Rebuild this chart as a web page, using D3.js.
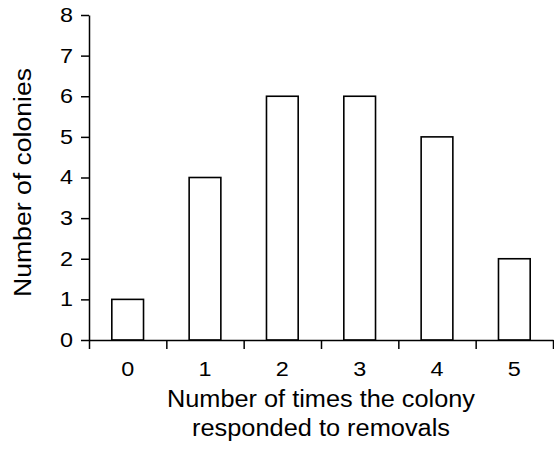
<!DOCTYPE html>
<html>
<head>
<meta charset="utf-8">
<script src="https://cdn.jsdelivr.net/npm/d3@7"></script>
<style>
  html, body { margin: 0; padding: 0; background: #fff; }
  svg { display: block; }
  text { font-family: "Liberation Sans", Arial, sans-serif; fill: #000; }
</style>
</head>
<body>
<script>
const categories = ["0", "1", "2", "3", "4", "5"];
const colonies = [1, 4, 6, 6, 5, 2];
const yTicks = [0, 1, 2, 3, 4, 5, 6, 7, 8];
const xTitleLines = ["Number of times the colony", "responded to removals"];
const yTitle = "Number of colonies";

const W = 554, H = 449;
const mLeft = 89, mRight = 553, mTop = 15, mBottom = 340;

const svg = d3.select("body").append("svg").attr("width", W).attr("height", H);

const y = d3.scaleLinear().domain([0, 8]).range([mBottom, mTop]);
const x = d3.scaleBand().domain(categories).range([mLeft, mRight]).paddingInner(0).paddingOuter(0);
const xEdges = d3.scaleLinear().domain([0, categories.length]).range([mLeft, mRight]);

// bars
const barFrac = 0.41;
svg.append("g").selectAll("rect").data(colonies).join("rect")
  .attr("x", (d, i) => x(categories[i]) + x.bandwidth() * (1 - barFrac) / 2)
  .attr("y", d => y(d))
  .attr("width", x.bandwidth() * barFrac)
  .attr("height", d => y(0) - y(d))
  .attr("fill", "#fff")
  .attr("stroke", "#000")
  .attr("stroke-width", 1.6);

// y axis
const yAxis = svg.append("g").attr("transform", `translate(${mLeft},0)`)
  .call(d3.axisLeft(y).tickValues(yTicks).tickFormat(d3.format("d")).tickSize(8).tickSizeOuter(0).tickPadding(8));
yAxis.selectAll("path, line").attr("stroke", "#000").attr("stroke-width", 1.5);
yAxis.selectAll("text").attr("font-size", 20).attr("font-family", "Liberation Sans, Arial, sans-serif")
  .attr("textLength", 13).attr("lengthAdjust", "spacingAndGlyphs");

// x axis: ticks at band edges
const xAxis = svg.append("g").attr("transform", `translate(0,${mBottom})`)
  .call(d3.axisBottom(xEdges).tickValues(d3.range(0, categories.length + 1)).tickFormat("").tickSize(9).tickSizeOuter(0));
xAxis.selectAll("path, line").attr("stroke", "#000").attr("stroke-width", 1.5);

// x labels at band centers
const xLab = svg.append("g").attr("transform", `translate(0,${mBottom})`)
  .call(d3.axisBottom(x).tickSize(0).tickPadding(22));
xLab.select(".domain").remove();
xLab.selectAll("text").attr("font-size", 20).attr("font-family", "Liberation Sans, Arial, sans-serif")
  .attr("textLength", 13).attr("lengthAdjust", "spacingAndGlyphs");

// x title
const xMid = (mLeft + mRight) / 2;
const xtLens = [308, 258];
const xtY = [407, 436];
xTitleLines.forEach((t, i) => {
  svg.append("text").attr("x", xMid).attr("y", xtY[i])
    .attr("text-anchor", "middle").attr("font-size", 23)
    .attr("textLength", xtLens[i]).attr("lengthAdjust", "spacingAndGlyphs")
    .text(t);
});

// y title
svg.append("text")
  .attr("transform", `translate(31,${(mTop + mBottom) / 2 + 5}) rotate(-90)`)
  .attr("text-anchor", "middle").attr("font-size", 23)
  .attr("textLength", 229).attr("lengthAdjust", "spacingAndGlyphs")
  .text(yTitle);
</script>
</body>
</html>
